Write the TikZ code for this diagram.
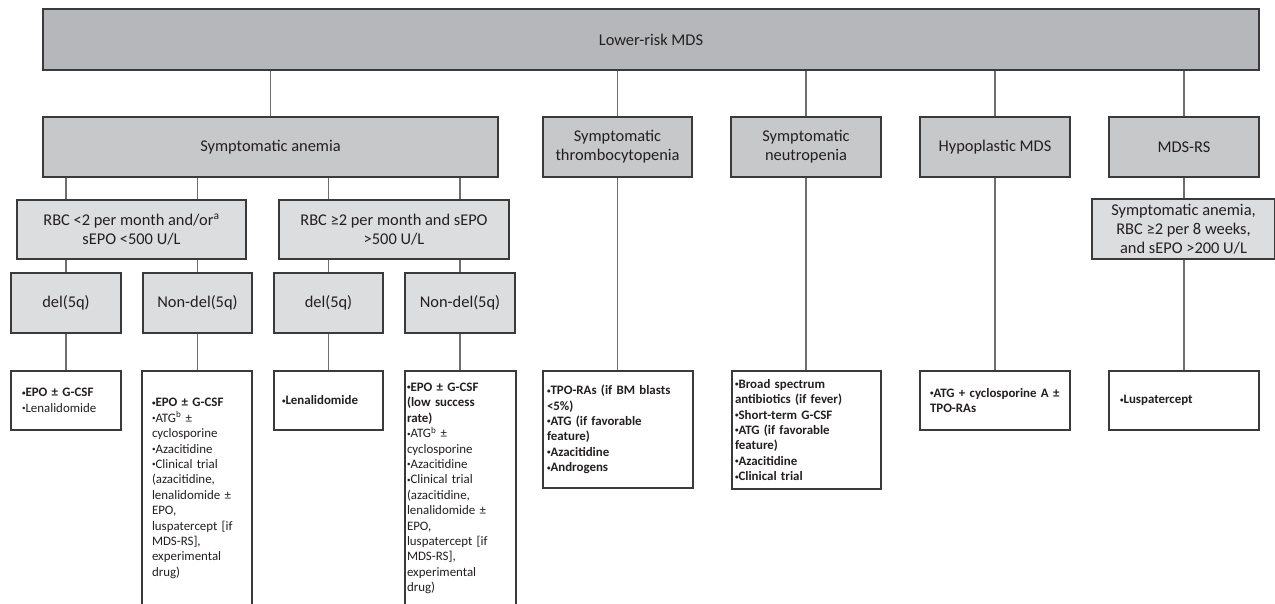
\documentclass[tikz,border=0pt]{standalone}
\usepackage{fontspec}
\setmainfont{Carlito}
\usepackage{xcolor}
\usepackage{graphicx}
\usepackage{tikz}

\definecolor{topgray}{HTML}{B6B7BA}
\definecolor{midgray}{HTML}{C7C8CA}
\definecolor{lowgray}{HTML}{DCDDDF}
\definecolor{linegray}{HTML}{6E6E6E}
\definecolor{edgegray}{HTML}{3A3A3A}
\definecolor{inkgray}{HTML}{231F20}

\newcommand*{\smallbul}{\raisebox{0.12em}{\scalebox{0.55}{•}}}

\begin{document}
\begin{tikzpicture}[x=1pt, y=-1pt,
    box/.style={draw=edgegray, line width=1.4pt, rectangle, align=center, inner sep=0pt, text=inkgray, font=\fontsize{16.4}{19}\selectfont},
    topbox/.style={box, fill=topgray},
    midbox/.style={box, fill=midgray},
    lowbox/.style={box, fill=lowgray},
    drugbox/.style={draw=edgegray, line width=1.4pt, rectangle, align=left, fill=white, inner ysep=0pt, text=inkgray, font=\fontsize{12.9}{15.4}\selectfont},
    link/.style={draw=linegray, line width=1.1pt}]
                  \useasboundingbox (0,0) rectangle (1275,604);
                  \clip (0,0) rectangle (1275,604);

                  % Top level
                  \node [topbox, minimum width=1216pt, minimum height=61pt] (lrmds) at (651,39.5) {Lower-risk MDS};

                  % Clinical problems
                  \node [midbox, minimum width=455pt, minimum height=60pt] (anemia) at (270.5,147) {Symptomatic anemia};
                  \node [midbox, minimum width=149pt, minimum height=60pt] (thrombo) at (617.5,147) {Symptomatic\\thrombocytopenia};
                  \node [midbox, minimum width=150pt, minimum height=60pt] (neutro) at (806,147) {Symptomatic\\neutropenia};
                  \node [midbox, minimum width=150pt, minimum height=60pt] (hypo) at (995,147) {Hypoplastic MDS};
                  \node [midbox, minimum width=150pt, minimum height=60pt] (mdsrs) at (1184,147) {MDS-RS};

                  % Transfusion need / sEPO
                  \node [lowbox, minimum width=229pt, minimum height=59pt] (rbclow) at (131.5,229.5) {RBC <2 per month and/or\textsuperscript{a}\\sEPO <500 U/L};
                  \node [lowbox, minimum width=230pt, minimum height=59pt] (rbchigh) at (394,229.5) {RBC ≥2 per month and sEPO\\>500 U/L};
                  \node [lowbox, minimum width=183pt, minimum height=60pt] (rsanemia) at (1183.5,229) {Symptomatic anemia,\\RBC ≥2 per 8 weeks,\\and sEPO >200 U/L};

                  % Karyotype
                  \node [lowbox, minimum width=110pt, minimum height=60pt] (delA) at (66,303) {del(5q)};
                  \node [lowbox, minimum width=109pt, minimum height=60pt] (nondelA) at (197.5,303) {Non-del(5q)};
                  \node [lowbox, minimum width=109pt, minimum height=60pt] (delB) at (328.5,303) {del(5q)};
                  \node [lowbox, minimum width=110pt, minimum height=60pt] (nondelB) at (460,303) {Non-del(5q)};

                  % Treatment options
                  \node [drugbox, inner xsep=11pt, text width=88pt, minimum height=59pt] (drugA) at (66,400.5) {\bfseries \smallbul EPO ± G-CSF\\\mdseries \smallbul Lenalidomide};
                  \node [drugbox, inner xsep=10pt, text width=90pt, minimum height=235pt] (drugB) at (197,488.5) {\bfseries \smallbul EPO ± G-CSF\\\mdseries \smallbul ATG\textsuperscript{b} ±\\cyclosporine\\\smallbul Azacitidine\\\smallbul Clinical trial\\(azacitidine,\\lenalidomide~±\\EPO,\\luspatercept [if\\MDS-RS],\\experimental\\drug)};
                  \node [drugbox, inner xsep=8pt, text width=93pt, minimum height=59pt] (drugC) at (328.5,400.5) {\bfseries \smallbul Lenalidomide};
                  \node [drugbox, inner xsep=2pt, text width=107pt, minimum height=235pt] (drugD) at (460.5,488.5) {\bfseries \smallbul EPO ± G-CSF\\(low success\\rate)\\\mdseries \smallbul ATG\textsuperscript{b} ±\\cyclosporine\\\smallbul Azacitidine\\\smallbul Clinical trial\\(azacitidine,\\lenalidomide~±\\EPO,\\luspatercept [if\\MDS-RS],\\experimental\\drug)};
                  \node [drugbox, inner xsep=4pt, text width=142pt, minimum height=117pt] (drugThr) at (618,429.5) {\bfseries \mbox{\smallbul TPO-RAs (if BM blasts}\\<5\%)\\\smallbul ATG (if favorable\\feature)\\\smallbul Azacitidine\\\smallbul Androgens};
                  \node [drugbox, inner xsep=3pt, text width=143pt, minimum height=118pt] (drugNeu) at (806.5,430) {\bfseries \smallbul Broad spectrum\\\mbox{antibiotics (if fever)}\\\smallbul Short-term G-CSF\\\smallbul ATG (if favorable\\feature)\\\smallbul Azacitidine\\\smallbul Clinical trial};
                  \node [drugbox, inner xsep=10pt, text width=130pt, minimum height=59pt] (drugHyp) at (995,400.5) {\bfseries \mbox{\smallbul ATG + cyclosporine A ±}\\TPO-RAs};
                  \node [drugbox, inner xsep=11pt, text width=128pt, minimum height=59pt] (drugRs) at (1184,400.5) {\bfseries \smallbul Luspatercept};

                  % Lines from Lower-risk MDS
                  \draw [link] (lrmds.south -| anemia) -- (anemia.north);
                  \draw [link] (lrmds.south -| thrombo) -- (thrombo.north);
                  \draw [link] (lrmds.south -| neutro) -- (neutro.north);
                  \draw [link] (lrmds.south -| hypo) -- (hypo.north);
                  \draw [link] (lrmds.south -| mdsrs) -- (mdsrs.north);

                  % Lines from Symptomatic anemia
                  \draw [link] (anemia.south -| delA) -- (rbclow.north -| delA);
                  \draw [link] (anemia.south -| nondelA) -- (rbclow.north -| nondelA);
                  \draw [link] (anemia.south -| delB) -- (rbchigh.north -| delB);
                  \draw [link] (anemia.south -| nondelB) -- (rbchigh.north -| nondelB);
                  \draw [link] (rbclow.south -| delA) -- (delA.north);
                  \draw [link] (rbclow.south -| nondelA) -- (nondelA.north);
                  \draw [link] (rbchigh.south -| delB) -- (delB.north);
                  \draw [link] (rbchigh.south -| nondelB) -- (nondelB.north);

                  % Lines to treatment boxes
                  \draw [link] (delA.south) -- (drugA.north -| delA);
                  \draw [link] (nondelA.south) -- (drugB.north -| nondelA);
                  \draw [link] (delB.south) -- (drugC.north -| delB);
                  \draw [link] (nondelB.south) -- (drugD.north -| nondelB);
                  \draw [link] (thrombo.south) -- (drugThr.north -| thrombo);
                  \draw [link] (neutro.south) -- (drugNeu.north -| neutro);
                  \draw [link] (hypo.south) -- (drugHyp.north -| hypo);
                  \draw [link] (mdsrs.south) -- (rsanemia.north -| mdsrs);
                  \draw [link] (rsanemia.south -| mdsrs) -- (drugRs.north -| mdsrs);
              \end{tikzpicture}
\end{document}
